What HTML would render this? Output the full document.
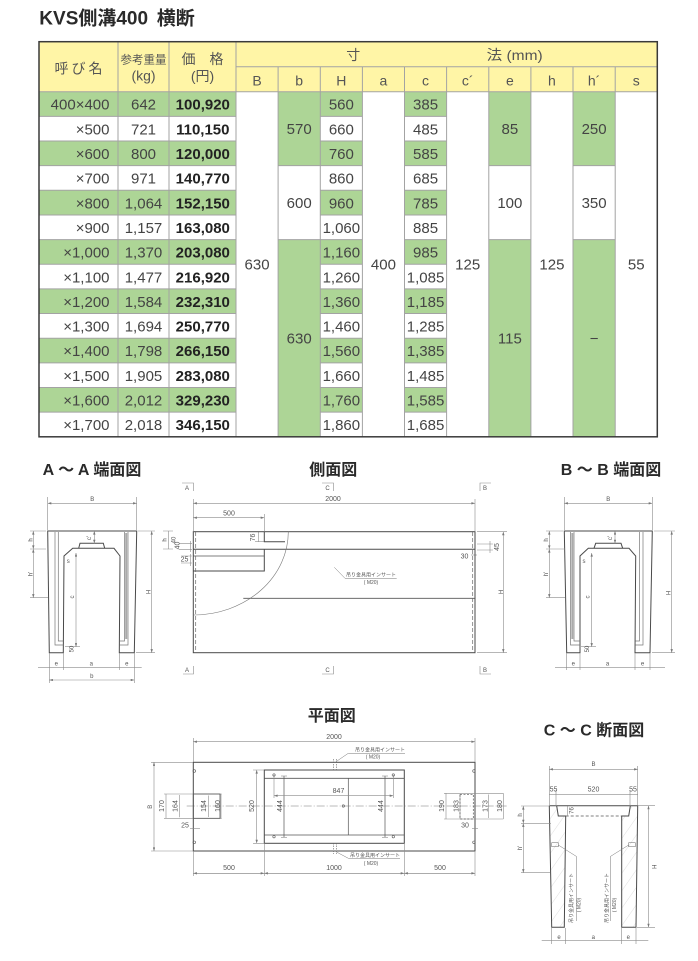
<!DOCTYPE html>
<html><head><meta charset="utf-8">
<style>
html,body{margin:0;padding:0;background:#fff;}
body{width:698px;height:961px;overflow:hidden;}
svg{display:block;font-family:"Liberation Sans","Noto Sans CJK JP",sans-serif;}
.o{stroke:#4a4a4a;stroke-width:1;fill:none;}
.d{stroke:#8a8a8a;stroke-width:0.6;fill:none;}
.s{font-size:6px;fill:#555;}
.n{font-size:7px;fill:#555;}
.l{font-size:5px;fill:#555;}
.tb{font-size:15px;fill:#444;}
.hd{font-size:14px;fill:#555;}
</style></head><body>
<svg width="698" height="961" viewBox="0 0 698 961" xmlns="http://www.w3.org/2000/svg">
<defs>
<marker id="ar" viewBox="0 0 6 4" refX="6" refY="2" markerWidth="4" markerHeight="2.4" markerUnits="userSpaceOnUse" orient="auto-start-reverse"><path d="M0,0L6,2L0,4z" fill="#777"/></marker>
<pattern id="hatch" width="10" height="10" patternUnits="userSpaceOnUse" patternTransform="rotate(35)"><line x1="0" y1="0" x2="0" y2="10" stroke="#c0c0c0" stroke-width="0.5"/></pattern>
</defs>

<!-- Title -->
<text x="39.3" y="24.5" font-size="19" font-weight="bold" fill="#2a2a2a">KVS側溝400</text>
<text x="156.7" y="24.5" font-size="19" font-weight="bold" fill="#2a2a2a">横断</text>

<!-- TABLE backgrounds -->
<rect x="39" y="41.7" width="618.3" height="50" fill="#FFF5A6"/>
<g fill="#ADD596">
<rect x="39" y="91.7" width="197" height="24.65"/>
<rect x="39" y="141" width="197" height="24.65"/>
<rect x="39" y="190.3" width="197" height="24.65"/>
<rect x="39" y="239.6" width="197" height="24.65"/>
<rect x="39" y="288.9" width="197" height="24.65"/>
<rect x="39" y="338.2" width="197" height="24.65"/>
<rect x="39" y="387.5" width="197" height="24.65"/>
<rect x="320.3" y="91.7" width="42.1" height="24.65"/>
<rect x="320.3" y="141" width="42.1" height="24.65"/>
<rect x="320.3" y="190.3" width="42.1" height="24.65"/>
<rect x="320.3" y="239.6" width="42.1" height="24.65"/>
<rect x="320.3" y="288.9" width="42.1" height="24.65"/>
<rect x="320.3" y="338.2" width="42.1" height="24.65"/>
<rect x="320.3" y="387.5" width="42.1" height="24.65"/>
<rect x="404.5" y="91.7" width="42.1" height="24.65"/>
<rect x="404.5" y="141" width="42.1" height="24.65"/>
<rect x="404.5" y="190.3" width="42.1" height="24.65"/>
<rect x="404.5" y="239.6" width="42.1" height="24.65"/>
<rect x="404.5" y="288.9" width="42.1" height="24.65"/>
<rect x="404.5" y="338.2" width="42.1" height="24.65"/>
<rect x="404.5" y="387.5" width="42.1" height="24.65"/>
<rect x="278.1" y="91.7" width="42.2" height="73.95"/>
<rect x="278.1" y="239.6" width="42.2" height="197.2"/>
<rect x="488.8" y="91.7" width="42.1" height="73.95"/>
<rect x="488.8" y="239.6" width="42.1" height="197.2"/>
<rect x="573" y="91.7" width="42.2" height="73.95"/>
<rect x="573" y="239.6" width="42.2" height="197.2"/>
</g>

<!-- TABLE lines -->
<g stroke="#a3a3a3" stroke-width="1" fill="none">
<path d="M118,41.7V436.8M169,41.7V436.8M236,41.7V436.8"/>
<path d="M278.1,66.7V436.8M320.3,66.7V436.8M362.4,66.7V436.8M404.5,66.7V436.8M446.6,66.7V436.8M488.8,66.7V436.8M530.9,66.7V436.8M573,66.7V436.8M615.2,66.7V436.8"/>
<path d="M236,66.7H657.3M39,91.7H657.3"/>
<path d="M39,116.35H236M39,141H236M39,165.65H236M39,190.3H236M39,214.95H236M39,239.6H236M39,264.25H236M39,288.9H236M39,313.55H236M39,338.2H236M39,362.85H236M39,387.5H236M39,412.15H236"/>
<path d="M320.3,116.35H362.4M320.3,141H362.4M320.3,165.65H362.4M320.3,190.3H362.4M320.3,214.95H362.4M320.3,239.6H362.4M320.3,264.25H362.4M320.3,288.9H362.4M320.3,313.55H362.4M320.3,338.2H362.4M320.3,362.85H362.4M320.3,387.5H362.4M320.3,412.15H362.4"/>
<path d="M404.5,116.35H446.6M404.5,141H446.6M404.5,165.65H446.6M404.5,190.3H446.6M404.5,214.95H446.6M404.5,239.6H446.6M404.5,264.25H446.6M404.5,288.9H446.6M404.5,313.55H446.6M404.5,338.2H446.6M404.5,362.85H446.6M404.5,387.5H446.6M404.5,412.15H446.6"/>
<path d="M278.1,165.65H320.3M278.1,239.6H320.3M488.8,165.65H530.9M488.8,239.6H530.9M573,165.65H615.2M573,239.6H615.2"/>
</g>
<rect x="39" y="41.7" width="618.3" height="395.1" fill="none" stroke="#3a3a3a" stroke-width="1.5"/>

<!-- TABLE header text -->
<text x="80" y="73.5" font-size="14" letter-spacing="3" text-anchor="middle" fill="#555">呼び名</text>
<text x="143.5" y="63.5" font-size="11.5" text-anchor="middle" fill="#555">参考重量</text>
<text x="143.5" y="80.5" font-size="14" text-anchor="middle" fill="#555">(kg)</text>
<text x="202.5" y="64" font-size="14" text-anchor="middle" fill="#555">価　格</text>
<text x="202.5" y="81" font-size="14" text-anchor="middle" fill="#555">(円)</text>
<text x="353.3" y="60" font-size="14" text-anchor="middle" fill="#555">寸</text>
<text x="486.7" y="60" font-size="14" fill="#555" textLength="56" lengthAdjust="spacingAndGlyphs">法 (mm)</text>
<g class="hd" text-anchor="middle">
<text x="257.05" y="85.3">B</text>
<text x="299.2" y="85.3">b</text>
<text x="341.35" y="85.3">H</text>
<text x="383.45" y="85.3">a</text>
<text x="425.55" y="85.3">c</text>
<text x="467.7" y="85.3">c´</text>
<text x="509.85" y="85.3">e</text>
<text x="551.95" y="85.3">h</text>
<text x="594.1" y="85.3">h´</text>
<text x="636.25" y="85.3">s</text>
</g>

<!-- TABLE body text -->
<g class="tb" text-anchor="end">
<text x="109.5" y="109.7">400×400</text>
<text x="109.5" y="134.35">×500</text>
<text x="109.5" y="159">×600</text>
<text x="109.5" y="183.65">×700</text>
<text x="109.5" y="208.3">×800</text>
<text x="109.5" y="232.95">×900</text>
<text x="109.5" y="257.6">×1,000</text>
<text x="109.5" y="282.25">×1,100</text>
<text x="109.5" y="306.9">×1,200</text>
<text x="109.5" y="331.55">×1,300</text>
<text x="109.5" y="356.2">×1,400</text>
<text x="109.5" y="380.85">×1,500</text>
<text x="109.5" y="405.5">×1,600</text>
<text x="109.5" y="430.15">×1,700</text>
</g>
<g class="tb" text-anchor="middle">
<text x="143.5" y="109.7">642</text>
<text x="143.5" y="134.35">721</text>
<text x="143.5" y="159">800</text>
<text x="143.5" y="183.65">971</text>
<text x="143.5" y="208.3">1,064</text>
<text x="143.5" y="232.95">1,157</text>
<text x="143.5" y="257.6">1,370</text>
<text x="143.5" y="282.25">1,477</text>
<text x="143.5" y="306.9">1,584</text>
<text x="143.5" y="331.55">1,694</text>
<text x="143.5" y="356.2">1,798</text>
<text x="143.5" y="380.85">1,905</text>
<text x="143.5" y="405.5">2,012</text>
<text x="143.5" y="430.15">2,018</text>
</g>
<g class="tb" text-anchor="middle" font-weight="bold" style="fill:#222">
<text x="202.8" y="109.7">100,920</text>
<text x="202.8" y="134.35">110,150</text>
<text x="202.8" y="159">120,000</text>
<text x="202.8" y="183.65">140,770</text>
<text x="202.8" y="208.3">152,150</text>
<text x="202.8" y="232.95">163,080</text>
<text x="202.8" y="257.6">203,080</text>
<text x="202.8" y="282.25">216,920</text>
<text x="202.8" y="306.9">232,310</text>
<text x="202.8" y="331.55">250,770</text>
<text x="202.8" y="356.2">266,150</text>
<text x="202.8" y="380.85">283,080</text>
<text x="202.8" y="405.5">329,230</text>
<text x="202.8" y="430.15">346,150</text>
</g>
<g class="tb" text-anchor="middle">
<text x="341.35" y="109.7">560</text>
<text x="341.35" y="134.35">660</text>
<text x="341.35" y="159">760</text>
<text x="341.35" y="183.65">860</text>
<text x="341.35" y="208.3">960</text>
<text x="341.35" y="232.95">1,060</text>
<text x="341.35" y="257.6">1,160</text>
<text x="341.35" y="282.25">1,260</text>
<text x="341.35" y="306.9">1,360</text>
<text x="341.35" y="331.55">1,460</text>
<text x="341.35" y="356.2">1,560</text>
<text x="341.35" y="380.85">1,660</text>
<text x="341.35" y="405.5">1,760</text>
<text x="341.35" y="430.15">1,860</text>
<text x="425.55" y="109.7">385</text>
<text x="425.55" y="134.35">485</text>
<text x="425.55" y="159">585</text>
<text x="425.55" y="183.65">685</text>
<text x="425.55" y="208.3">785</text>
<text x="425.55" y="232.95">885</text>
<text x="425.55" y="257.6">985</text>
<text x="425.55" y="282.25">1,085</text>
<text x="425.55" y="306.9">1,185</text>
<text x="425.55" y="331.55">1,285</text>
<text x="425.55" y="356.2">1,385</text>
<text x="425.55" y="380.85">1,485</text>
<text x="425.55" y="405.5">1,585</text>
<text x="425.55" y="430.15">1,685</text>
<text x="257.05" y="269.65">630</text>
<text x="299.2" y="134.1">570</text>
<text x="299.2" y="208">600</text>
<text x="299.2" y="343.6">630</text>
<text x="383.45" y="269.65">400</text>
<text x="467.7" y="269.65">125</text>
<text x="509.85" y="134.1">85</text>
<text x="509.85" y="208">100</text>
<text x="509.85" y="343.6">115</text>
<text x="551.95" y="269.65">125</text>
<text x="594.1" y="134.1">250</text>
<text x="594.1" y="208">350</text>
<text x="594.1" y="343.6">−</text>
<text x="636.25" y="269.65">55</text>
</g>

<!-- Section titles -->
<g font-size="16" font-weight="bold" fill="#2a2a2a" text-anchor="middle">
<text x="92" y="475">A ～ A 端面図</text>
<text x="333.3" y="475">側面図</text>
<text x="611" y="475">B ～ B 端面図</text>
<text x="331.7" y="721">平面図</text>
<text x="594" y="735.5">C ～ C 断面図</text>
</g>

<!-- ===== A-A ===== -->
<path class="o" d="M47.7,531 L136.7,531 L134.3,652.7 L119.3,652.7 L120,556 L114,548.3 L72.7,548.3 L64,556 L63.3,652.7 L49.3,652.7 Z"/>
<path class="o" d="M78.7,548.3 L80,543.3 L103.3,543.3 L104.7,548.3"/>
<path d="M55,532 V645 H63.3 M58.3,532 V641 H63.3 M128,532 V645 H119.5 M124.5,532 V641 H119.5" stroke="#777" stroke-width="0.7" fill="none"/>
<line x1="126.2" y1="533" x2="126.2" y2="639" stroke="#aaa" stroke-width="2"/>
<g class="d">
<line x1="47.7" y1="503.3" x2="136.7" y2="503.3" marker-start="url(#ar)" marker-end="url(#ar)"/>
<path d="M47.7,497V530M136.7,497V530"/>
<line x1="33.3" y1="531" x2="33.3" y2="549" marker-start="url(#ar)" marker-end="url(#ar)"/>
<line x1="33.3" y1="549" x2="33.3" y2="597.7" marker-start="url(#ar)" marker-end="url(#ar)"/>
<path d="M30,531H46M30,549H46M30,597.7H48"/>
<line x1="151.7" y1="531" x2="151.7" y2="652.7" marker-start="url(#ar)" marker-end="url(#ar)"/>
<path d="M138,531H155M136,652.7H155"/>
<line x1="168.3" y1="531" x2="168.3" y2="549"/>
<path d="M163,531H173M163,549H173"/>
<line x1="94.3" y1="531" x2="94.3" y2="543.3" marker-start="url(#ar)" marker-end="url(#ar)"/>
<line x1="76" y1="553" x2="76" y2="646.7" marker-start="url(#ar)" marker-end="url(#ar)"/>
<path d="M65,646.7H80"/>
<line x1="38" y1="667.3" x2="141.7" y2="667.3"/>
<path d="M49.3,653V683M63.3,653V670M119.3,653V670M134.3,653V683"/>
<line x1="49.3" y1="680" x2="134.3" y2="680" marker-start="url(#ar)" marker-end="url(#ar)"/>
</g>
<g class="s" text-anchor="middle">
<text x="92.2" y="501">B</text>
<text transform="translate(30.5,540) rotate(-90)" dy="2">h</text>
<text transform="translate(30.5,574) rotate(-90)" dy="2">h'</text>
<text transform="translate(148.5,592) rotate(-90)" dy="2">H</text>
<text transform="translate(164.5,540) rotate(-90)" dy="2">h</text>
<text transform="translate(173.5,540) rotate(-90)" dy="2">40</text>
<text transform="translate(89,538) rotate(-90)" dy="2">c'</text>
<text transform="translate(72,597) rotate(-90)" dy="2">c</text>
<text x="68.3" y="563">s</text>
<text transform="translate(71.5,649) rotate(-90)" dy="2">50</text>
<text x="56.3" y="665.5">e</text>
<text x="91.3" y="665.5">a</text>
<text x="126.8" y="665.5">e</text>
<text x="91.8" y="678">b</text>
</g>

<!-- ===== B-B ===== -->
<path class="o" d="M564.3,531 L652.3,531 L650,652.7 L635,652.7 L635.7,556 L629,548.3 L588.3,548.3 L580,556 L580,652.7 L566.7,652.7 Z"/>
<path class="o" d="M594,548.3 L595.7,543.3 L621,543.3 L622.7,548.3"/>
<path d="M570.5,532 V645 H580 M574,532 V641 H580 M643,532 V645 H635.3 M639.5,532 V641 H635.3" stroke="#777" stroke-width="0.7" fill="none"/>
<line x1="572.3" y1="533" x2="572.3" y2="639" stroke="#aaa" stroke-width="2"/>
<g class="d">
<line x1="564.3" y1="503.3" x2="652.3" y2="503.3" marker-start="url(#ar)" marker-end="url(#ar)"/>
<path d="M564.3,497V530M652.3,497V530"/>
<line x1="549.3" y1="531" x2="549.3" y2="549" marker-start="url(#ar)" marker-end="url(#ar)"/>
<line x1="549.3" y1="549" x2="549.3" y2="597.7" marker-start="url(#ar)" marker-end="url(#ar)"/>
<path d="M546,531H563M546,549H565M546,597.7H565"/>
<line x1="671.7" y1="531" x2="671.7" y2="652.7" marker-start="url(#ar)" marker-end="url(#ar)"/>
<path d="M654,531H675M652,652.7H675"/>
<line x1="615" y1="531" x2="615" y2="543.3" marker-start="url(#ar)" marker-end="url(#ar)"/>
<line x1="591.7" y1="553" x2="591.7" y2="646.7" marker-start="url(#ar)" marker-end="url(#ar)"/>
<path d="M581,646.7H596"/>
<line x1="555" y1="667.3" x2="665" y2="667.3"/>
<path d="M566.7,653V670M580,653V670M635,653V670M650,653V670"/>
</g>
<g class="s" text-anchor="middle">
<text x="608.3" y="501">B</text>
<text transform="translate(546,540) rotate(-90)" dy="2">h</text>
<text transform="translate(546,574) rotate(-90)" dy="2">h'</text>
<text transform="translate(668.5,593) rotate(-90)" dy="2">H</text>
<text transform="translate(610,538) rotate(-90)" dy="2">c'</text>
<text transform="translate(587.5,597) rotate(-90)" dy="2">c</text>
<text x="584" y="563">s</text>
<text transform="translate(587,649) rotate(-90)" dy="2">50</text>
<text x="573.3" y="665.5">e</text>
<text x="607.5" y="665.5">a</text>
<text x="642.5" y="665.5">e</text>
</g>

<!-- ===== Side view ===== -->
<g class="d">
<path d="M182,483H193.5V491M322,483H333.5V491M491,483H480V491"/>
<path d="M183,674H193.5V666M322,674H333.5V666M491,674H480V666"/>
<line x1="193.3" y1="503.3" x2="475" y2="503.3" marker-start="url(#ar)" marker-end="url(#ar)"/>
<path d="M193.3,499V531M475,499V531"/>
<line x1="193.3" y1="517.7" x2="264.3" y2="517.7" marker-start="url(#ar)" marker-end="url(#ar)"/>
<path d="M264.3,514V531"/>
<line x1="258.3" y1="531.7" x2="258.3" y2="541.7"/>
<path d="M255,541.7H264"/>
<path d="M179,543.3H192M179,549.3H192M190.5,541V552"/>
<path d="M181,556H192M181,563H192M190.5,554V566"/>
<path d="M477,544H493M477,550H493M490,541V553"/>
<path d="M471,555H477"/>
<line x1="503.3" y1="531.7" x2="503.3" y2="652.7" marker-start="url(#ar)" marker-end="url(#ar)"/>
<path d="M477,531.7H507M477,652.7H507"/>
</g>
<rect class="o" x="193.3" y="531.7" width="281.7" height="121" stroke-width="1.2"/>
<path class="o" d="M193.3,549.3H475 M193.3,571H264.3V549.3 M264.3,531.7V541.7H285" stroke-width="1.1"/>
<path d="M193.3,556H264.3" stroke="#555" stroke-width="0.8"/>
<path d="M243.3,598.3H475" stroke="#555" stroke-width="0.8"/>
<path d="M195.7,532V652M472.7,532V652" stroke="#666" stroke-width="0.7" stroke-dasharray="4 2" fill="none"/>
<path d="M288.3,531.7 A95,83.3 0 0 1 194,615" stroke="#777" stroke-width="0.6" fill="none"/>
<path d="M334.3,567.3 L345,578.3 H396.7" stroke="#777" stroke-width="0.5" fill="none"/>
<g class="s" text-anchor="middle">
<text x="187" y="490">A</text>
<text x="327.5" y="490">C</text>
<text x="485" y="490">B</text>
<text x="187" y="672">A</text>
<text x="327.5" y="672">C</text>
<text x="485" y="672">B</text>
</g>
<g class="n" text-anchor="middle">
<text x="333" y="501">2000</text>
<text x="229" y="515.5">500</text>
<text transform="translate(252.5,537.5) rotate(-90)" dy="2.5">76</text>
<text transform="translate(177,545.5) rotate(-90)" dy="2.5">40</text>
<text x="184.5" y="561.5">25</text>
<text transform="translate(496.5,547) rotate(-90)" dy="2.5">45</text>
<text x="464.5" y="558.5">30</text>
<text transform="translate(500.5,592) rotate(-90)" dy="2.5" style="font-size:6px">H</text>
</g>
<text class="l" x="346" y="576.5">吊り金具用インサート</text>
<text class="l" x="371" y="584" text-anchor="middle">( M20)</text>

<!-- ===== Plan view ===== -->
<rect class="o" x="193.3" y="762.3" width="281.7" height="88.7" stroke-width="1.1"/>
<rect class="o" x="264.3" y="770" width="140" height="73.3"/>
<path d="M264.3,778.3H404.3M264.3,835H404.3" stroke="#555" stroke-width="0.8" fill="none"/>
<path d="M284,776V837.3M385,776V837.3M348.3,778.3V835" stroke="#555" stroke-width="0.7" fill="none"/>
<path d="M281,776H287M281,837.3H287M382,776H388M382,837.3H388" stroke="#777" stroke-width="0.5"/>
<path d="M186.7,806H506.7" stroke="#777" stroke-width="0.5" stroke-dasharray="8 2 1 2" fill="none"/>
<g class="d">
<line x1="193.3" y1="741.7" x2="475" y2="741.7" marker-start="url(#ar)" marker-end="url(#ar)"/>
<path d="M193.3,738V762M475,738V762"/>
<line x1="274" y1="795.7" x2="393.3" y2="795.7" marker-start="url(#ar)" marker-end="url(#ar)"/>
<path d="M274,775V798M393.3,775V798"/>
<line x1="256.7" y1="770" x2="256.7" y2="843.3" marker-start="url(#ar)" marker-end="url(#ar)"/>
<path d="M253,770H264M253,843.3H264"/>
<line x1="154" y1="762.3" x2="154" y2="851" marker-start="url(#ar)" marker-end="url(#ar)"/>
<path d="M151,762.3H193M151,851H193"/>
<path d="M164,794H221.7M164,818.3H221.7"/>
<path d="M166,794V818.3M179.3,795V817.3M208.3,795.5V817M221,794V818.3"/>
<path d="M190,828.3H200"/>
<path d="M444,793.3H503.3M444,819H503.3"/>
<path d="M446,793.3V819M460,794V818.5M488.3,794.5V818M503.3,793.3V819"/>
<path d="M472,828.3H478"/>
<line x1="193.3" y1="873.3" x2="475" y2="873.3"/>
<line x1="193.3" y1="873.3" x2="264.3" y2="873.3" marker-start="url(#ar)" marker-end="url(#ar)"/>
<line x1="264.3" y1="873.3" x2="404.3" y2="873.3" marker-start="url(#ar)" marker-end="url(#ar)"/>
<line x1="404.3" y1="873.3" x2="475" y2="873.3" marker-start="url(#ar)" marker-end="url(#ar)"/>
<path d="M193.3,851V876M264.3,843.3V876M404.3,843.3V876M475,851V876"/>
</g>
<rect x="193.3" y="794" width="26.7" height="24.3" fill="none" stroke="#555" stroke-width="0.8"/>
<rect x="460" y="794.3" width="13.3" height="24.7" fill="none" stroke="#555" stroke-width="0.7" stroke-dasharray="2 1.5"/>
<g fill="none" stroke="#555" stroke-width="0.6">
<circle cx="194.3" cy="771" r="1.3"/><circle cx="194.3" cy="842.3" r="1.3"/>
<circle cx="474" cy="771" r="1.3"/><circle cx="474" cy="842.3" r="1.3"/>
<circle cx="274" cy="775" r="1.2"/><circle cx="393.3" cy="775" r="1.2"/>
<circle cx="274" cy="836.7" r="1.2"/><circle cx="393.3" cy="836.7" r="1.2"/>
<circle cx="343.3" cy="806" r="1.2"/>
</g>
<path d="M333.5,759V770M336.3,759V770M333.5,843V854M336.3,843V854" stroke="#666" stroke-width="0.6" stroke-dasharray="1.5 1"/>
<path d="M336,761.7 L348.3,753.3 H405 M336,851.7 L348.3,858.3 H400" stroke="#777" stroke-width="0.5" fill="none"/>
<text class="l" x="355" y="751.5">吊り金具用インサート</text>
<text class="l" x="373" y="758.5" text-anchor="middle">( M20)</text>
<text class="l" x="350" y="857">吊り金具用インサート</text>
<text class="l" x="371" y="865" text-anchor="middle">( M20)</text>
<g class="n" text-anchor="middle">
<text x="334" y="739">2000</text>
<text x="338.5" y="793">847</text>
<text transform="translate(251.5,806) rotate(-90)" dy="2.5">520</text>
<text transform="translate(279.5,806) rotate(-90)" dy="2.5">444</text>
<text transform="translate(380.5,806) rotate(-90)" dy="2.5">444</text>
<text transform="translate(149.5,806.7) rotate(-90)" dy="2.5" style="font-size:6px">B</text>
<text transform="translate(161.7,806) rotate(-90)" dy="2.5">170</text>
<text transform="translate(175,806) rotate(-90)" dy="2.5">164</text>
<text transform="translate(203.5,806) rotate(-90)" dy="2.5">154</text>
<text transform="translate(217.3,806) rotate(-90)" dy="2.5">160</text>
<text x="185" y="827.5">25</text>
<text transform="translate(441.7,806) rotate(-90)" dy="2.5">190</text>
<text transform="translate(456,806) rotate(-90)" dy="2.5">183</text>
<text transform="translate(485,806) rotate(-90)" dy="2.5">173</text>
<text transform="translate(499.3,806) rotate(-90)" dy="2.5">180</text>
<text x="465" y="827.5">30</text>
<text x="229" y="870">500</text>
<text x="334" y="870">1000</text>
<text x="440" y="870">500</text>
</g>

<!-- ===== C-C ===== -->
<path d="M549.3,805.7 L556.7,806 L558.3,816 L565.7,816 L564.3,927.3 L551.7,927.3 Z" fill="url(#hatch)"/>
<path d="M637.7,805.7 L630.3,806 L628.7,816 L621.7,816 L621.7,927.3 L636,927.3 Z" fill="url(#hatch)"/>
<path class="o" d="M549.3,805.7 H637.7 L636,927.3 H621.7 V816 H628.7 L630.3,806 M556.7,806 L558.3,816 H565.7 L564.3,927.3 H551.7 L549.3,805.7"/>
<path d="M565.7,816H621.7" stroke="#555" stroke-width="0.8" stroke-dasharray="3 2" fill="none"/>
<g class="d">
<line x1="549.3" y1="769.3" x2="637.7" y2="769.3" marker-start="url(#ar)" marker-end="url(#ar)"/>
<path d="M549.3,766V805M637.7,766V805"/>
<line x1="549.3" y1="794.3" x2="637.7" y2="794.3"/>
<path d="M556,790V806M630,790V806"/>
<line x1="567.5" y1="806" x2="567.5" y2="816"/>
<line x1="523.3" y1="806" x2="523.3" y2="823.3" marker-start="url(#ar)" marker-end="url(#ar)"/>
<line x1="523.3" y1="823.3" x2="523.3" y2="872.7" marker-start="url(#ar)" marker-end="url(#ar)"/>
<path d="M521,806H549M521,823.3H551M521,872.7H550"/>
<line x1="648.5" y1="805.7" x2="648.5" y2="927.3" marker-start="url(#ar)" marker-end="url(#ar)"/>
<path d="M638,805.7H655M637,927.3H655"/>
<line x1="541.7" y1="940.7" x2="648.3" y2="940.7"/>
<path d="M551.7,928V944M565.7,928V944M621.7,928V944M636,928V944"/>
</g>
<rect x="551.7" y="842.7" width="6.6" height="4" fill="none" stroke="#666" stroke-width="0.5"/>
<rect x="628.7" y="842.7" width="6.6" height="4" fill="none" stroke="#666" stroke-width="0.5"/>
<path d="M558.3,845 L576.5,856.5 V921 M628.7,845 L610.3,856.5 V921" stroke="#777" stroke-width="0.5" fill="none"/>
<text class="l" transform="translate(573,898) rotate(-90)" text-anchor="middle">吊り金具用インサート</text>
<text class="l" transform="translate(580.5,905) rotate(-90)" text-anchor="middle">( M20)</text>
<text class="l" transform="translate(608.5,898) rotate(-90)" text-anchor="middle">吊り金具用インサート</text>
<text class="l" transform="translate(616,905) rotate(-90)" text-anchor="middle">( M20)</text>
<g class="n" text-anchor="middle">
<text x="593.5" y="766" style="font-size:6px">B</text>
<text x="553.5" y="791.5">55</text>
<text x="593.5" y="791.5">520</text>
<text x="633" y="791.5">55</text>
<text transform="translate(571,810.5) rotate(-90)" dy="2.5" style="font-size:6px">76</text>
<text transform="translate(654,866.7) rotate(-90)" dy="2.5" style="font-size:6px">H</text>
<text transform="translate(520,815) rotate(-90)" dy="2" style="font-size:6px">h</text>
<text transform="translate(520,848) rotate(-90)" dy="2" style="font-size:6px">h'</text>
<text x="559" y="939" style="font-size:6px">e</text>
<text x="593.3" y="939" style="font-size:6px">a</text>
<text x="628.3" y="939" style="font-size:6px">e</text>
</g>
</svg>
</body></html>
